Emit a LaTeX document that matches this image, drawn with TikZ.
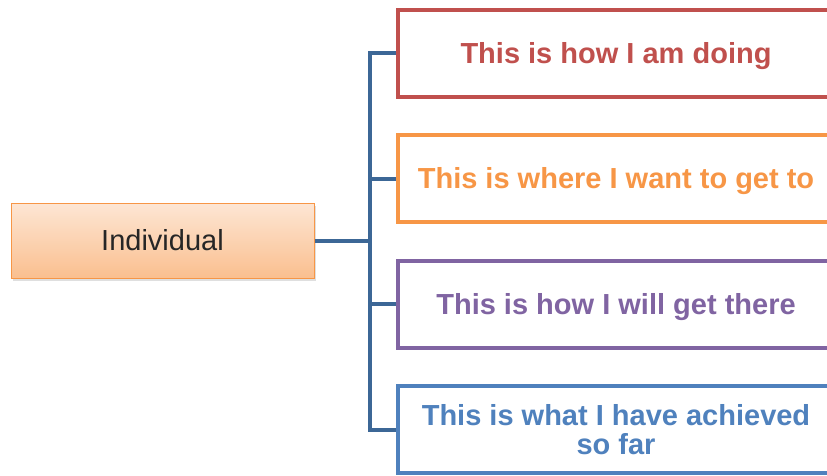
\documentclass[tikz,border=0pt]{standalone}
\usepackage{fontspec}
\setmainfont{Liberation Sans}
\usetikzlibrary{shadows}
\definecolor{cred}{HTML}{C0504D}
\definecolor{corange}{HTML}{F79646}
\definecolor{cpurple}{HTML}{8064A2}
\definecolor{cblue}{HTML}{4F81BD}
\definecolor{clink}{HTML}{3C6796}
\definecolor{ptop}{HTML}{FDE6D4}
\definecolor{pbot}{HTML}{FABF8F}
\tikzset{
  stage/.style={draw=#1, text=#1, line width=4pt, fill=white, minimum width=436pt,
    minimum height=87pt, align=center, inner sep=0pt,
    font=\fontsize{29}{29}\selectfont\bfseries},
  oneline/.style={text height=22pt, text depth=2pt},
  rootbox/.style={draw=corange, line width=1pt, top color=ptop, bottom color=pbot,
    minimum width=303pt, minimum height=75pt, inner sep=0pt,
    font=\fontsize{29}{29}\selectfont, text=black!85,
    drop shadow={shadow xshift=2pt, shadow yshift=-3pt, opacity=0.25}},
  link/.style={draw=clink, line width=4pt}
}
\begin{document}
\begin{tikzpicture}[x=1pt,y=-1pt]
\useasboundingbox (0,0) rectangle (827,476);
\clip (0,0) rectangle (827,476);
\fill[white] (0,0) rectangle (827,476);
\node[rootbox] (ind) at (162.5,240.5) {Individual};
\node[stage=cred, oneline] (s1) at (616,53.5) {This is how I am doing};
\node[stage=corange, oneline] (s2) at (616,178.5) {This is where I want to get to};
\node[stage=cpurple, oneline] (s3) at (616,304) {This is how I will get there};
\node[stage=cblue] (s4) at (616,429.5) {This is what I have achieved\\so far};
\coordinate (j) at (370,240);
\draw[link] (ind.east) -- (ind.east -| j);
\draw[link] (s1.west) -| (j) |- (s4.west);
\draw[link] (s2.west) -- (s2.west -| j);
\draw[link] (s3.west) -- (s3.west -| j);
\end{tikzpicture}
\end{document}
